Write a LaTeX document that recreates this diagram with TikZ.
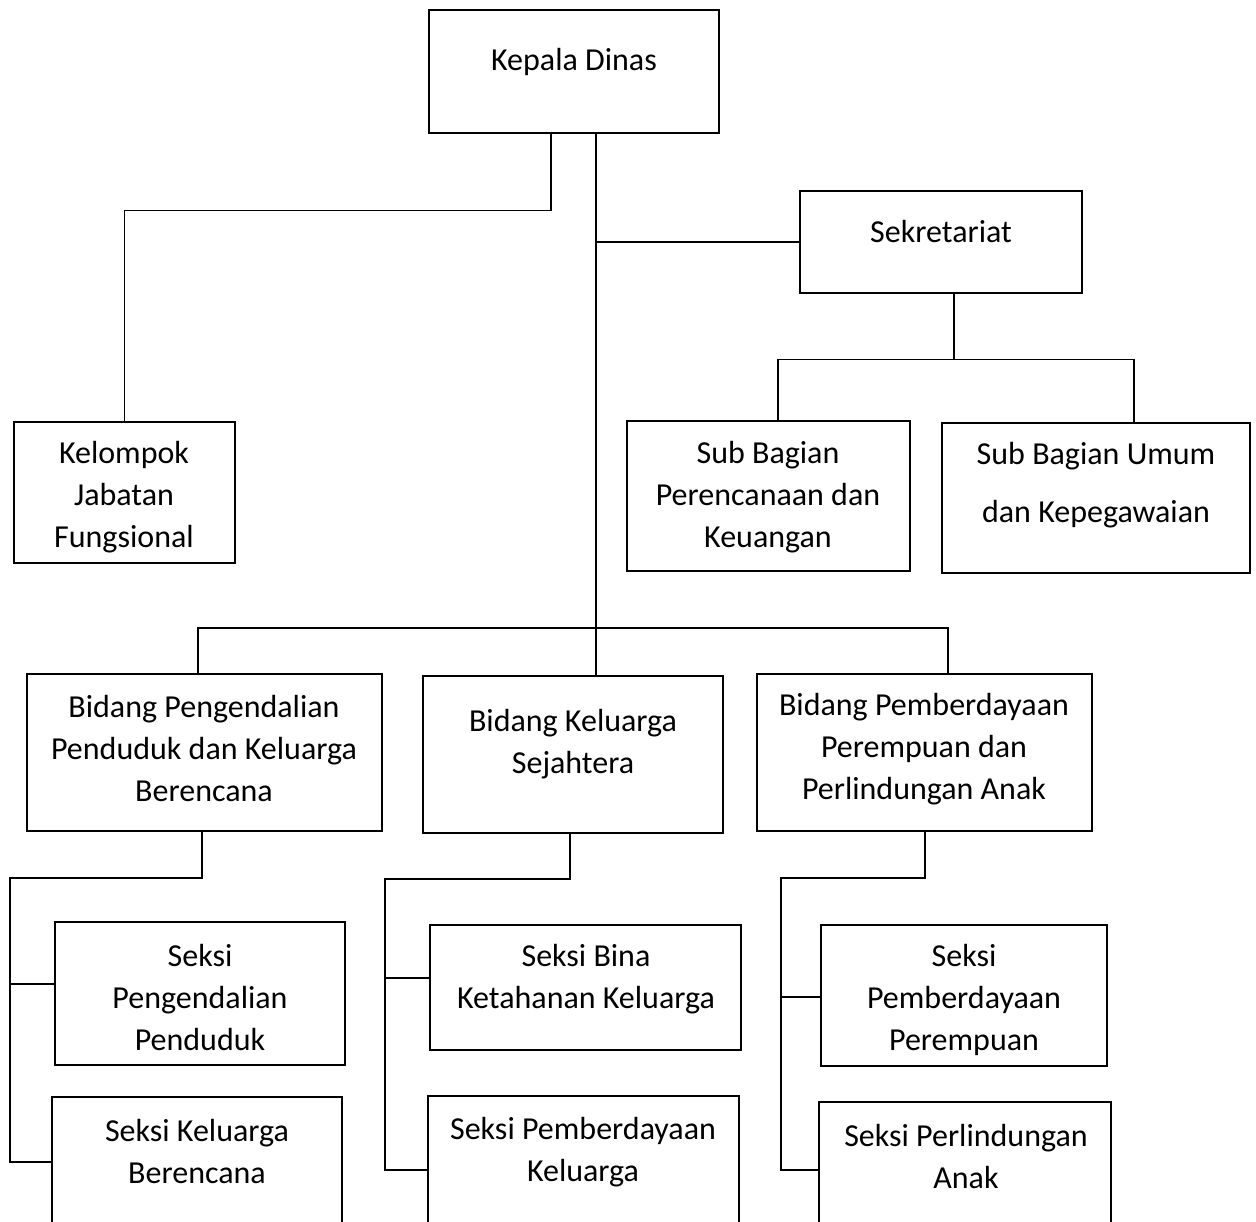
\documentclass[tikz,border=0pt]{standalone}
\usepackage{fontspec}
\setmainfont{Carlito}
\begin{document}
\begin{tikzpicture}[x=1pt,y=-1pt,
  box/.style={draw, line width=2.5pt, inner sep=0pt},
  txt/.style={align=center, font=\fontsize{32}{42}\selectfont, inner sep=0pt},
  conn/.style={line width=1.3pt}]
\useasboundingbox (0,0) rectangle (1256,1222);
\clip (0,0) rectangle (1256,1222);
% boxes
\node[box, minimum width=290pt, minimum height=123pt] (kd) at (574,71.5) {};
\node[box, minimum width=282pt, minimum height=102pt] (sek) at (941,242) {};
\node[box, minimum width=221pt, minimum height=141pt] (kjf) at (124.5,492.5) {};
\node[box, minimum width=283pt, minimum height=150pt] (sbp) at (768.5,496) {};
\node[box, minimum width=308pt, minimum height=150pt] (sbu) at (1096,498) {};
\node[box, minimum width=355pt, minimum height=157pt] (b1) at (204.5,752.5) {};
\node[box, minimum width=300pt, minimum height=157pt] (b2) at (573,754.5) {};
\node[box, minimum width=335pt, minimum height=157pt] (b3) at (924.5,752.5) {};
\node[box, minimum width=290pt, minimum height=143pt] (s1a) at (200,993.5) {};
\node[box, minimum width=290pt, minimum height=163pt] (s1b) at (197,1178.5) {};
\node[box, minimum width=311pt, minimum height=125pt] (s2a) at (585.5,987.5) {};
\node[box, minimum width=311pt, minimum height=164pt] (s2b) at (583.5,1178) {};
\node[box, minimum width=286pt, minimum height=141pt] (s3a) at (964,995.5) {};
\node[box, minimum width=292pt, minimum height=158pt] (s3b) at (965,1181) {};
% texts
\node[txt] (tkd) at (574,62) {Kepala Dinas};
\node[txt] (tsek) at (941,232) {Sekretariat};
\begin{scope}
\clip (14,422) rectangle (235,553);
\node[txt] (tkjf) at (124,497) {Kelompok\\Jabatan\\Fungsional};
\end{scope}
\node[txt] (tsbp) at (768,497) {Sub Bagian\\Perencanaan dan\\Keuangan};
\node[txt, font=\fontsize{32}{58}\selectfont] (tsbu) at (1096,485) {Sub Bagian Umum\\dan Kepegawaian};
\node[txt] (tb1) at (204,749) {Bidang Pengendalian\\Penduduk dan Keluarga\\Berencana};
\node[txt] (tb2) at (573,744.5) {Bidang Keluarga\\Sejahtera};
\node[txt] (tb3) at (924,749) {Bidang Pemberdayaan\\Perempuan dan\\Perlindungan Anak};
\node[txt] (ts1a) at (200,998) {Seksi\\Pengendalian\\Penduduk};
\node[txt] (ts1b) at (197,1151.5) {Seksi Keluarga\\Berencana};
\node[txt] (ts2a) at (586,979) {Seksi Bina\\Ketahanan Keluarga};
\node[txt] (ts2b) at (583,1152) {Seksi Pemberdayaan\\Keluarga};
\node[txt] (ts3a) at (964,1000) {Seksi\\Pemberdayaan\\Perempuan};
\node[txt] (ts3b) at (966,1156) {Seksi Perlindungan\\Anak};
% connectors
\coordinate (trunk) at (596,628);
\draw[conn] ([xshift=-23pt]kd.south) -- ++(0,76) -| (kjf.north);
\draw[conn] ([xshift=22pt]kd.south) -- (trunk);
\draw[conn] (sek.west) -- (sek.west -| trunk);
\draw[conn] ([xshift=13pt]sek.south) -- ++(0,65) coordinate (sj);
\draw[conn] ([xshift=9.5pt]sbp.north) |- (sj) -| ([xshift=38pt]sbu.north);
\draw[conn] ([xshift=-6.5pt]b1.north) |- (trunk) -| ([xshift=23.5pt]b3.north);
\draw[conn] (trunk) -- ([xshift=23pt]b2.north);
% bidang 1
\draw[conn] ([xshift=-2.5pt]b1.south) |- (10,878) -- (10,1162) -- ([yshift=16.5pt]s1b.west);
\draw[conn] (10,984) -- ([yshift=9.5pt]s1a.west);
% bidang 2
\draw[conn] ([xshift=-3pt]b2.south) |- (385,879) -- (385,1170) -- ([yshift=8pt]s2b.west);
\draw[conn] (385,978) -- ([yshift=9.5pt]s2a.west);
% bidang 3
\draw[conn] ([xshift=0.5pt]b3.south) |- (781,878) -- (781,1170) -- ([yshift=11pt]s3b.west);
\draw[conn] (781,997) -- ([yshift=-1.5pt]s3a.west);
\end{tikzpicture}
\end{document}
